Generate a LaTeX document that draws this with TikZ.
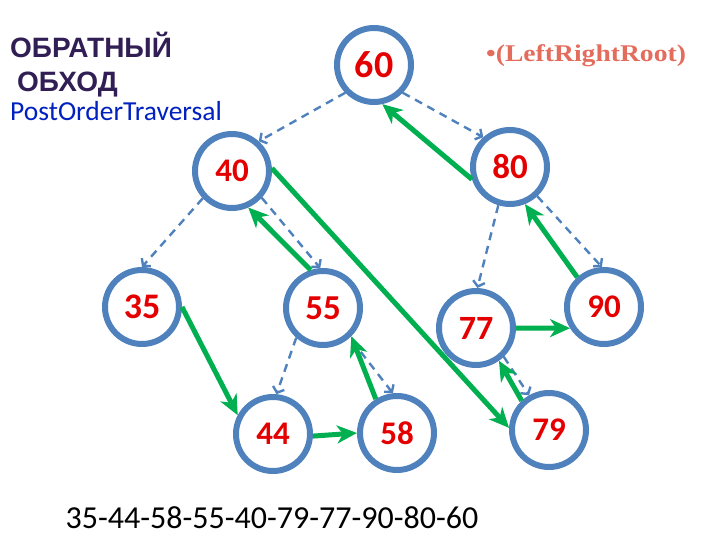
\documentclass[tikz,border=0pt]{standalone}
\usepackage{fontspec}
\setmainfont{Carlito}
\newfontfamily\arialf{Liberation Sans}
\newfontfamily\timesf{Liberation Serif}
\usetikzlibrary{arrows.meta}
\definecolor{nodeblue}{RGB}{79,129,189}
\definecolor{numred}{RGB}{228,0,0}
\definecolor{arrgreen}{RGB}{0,176,80}
\definecolor{titlepurple}{RGB}{48,30,84}
\definecolor{subblue}{RGB}{0,32,192}
\definecolor{salmon}{RGB}{228,108,92}
\begin{document}
\begin{tikzpicture}[x=1pt,y=-1pt,
  tn/.style={circle, draw=nodeblue, line width=6pt, minimum size=74pt, inner sep=0pt,
    font=\bfseries\fontsize{33}{33}\selectfont, text=numred},
  tree/.style={draw=nodeblue, line width=2.4pt, dash pattern=on 8pt off 6pt,
    -{Straight Barb[length=5pt,width=12pt]}},
  walk/.style={draw=arrgreen, line width=5pt, -{Stealth[length=20pt,width=18pt,inset=6pt]}}]
\path[use as bounding box] (0,0) rectangle (720,540);

% titles
\node[anchor=base west, inner sep=0pt, font=\arialf\bfseries\fontsize{28}{28}\selectfont, text=titlepurple] (t1) at (10,58) {ОБРАТНЫЙ};
\node[anchor=base west, inner sep=0pt, font=\arialf\bfseries\fontsize{28}{28}\selectfont, text=titlepurple] (t2) at (17,92) {ОБХОД};
\node[anchor=base west, inner sep=0pt, font=\fontsize{27.5}{27.5}\selectfont, text=subblue] (t3) at (10,121) {PostOrderTraversal};
\node[anchor=base west, inner sep=0pt, font=\timesf\bfseries\fontsize{24}{24}\selectfont, text=salmon] (t4) at (486,62) {\scalebox{1.15}[1]{•(LeftRightRoot)}};
\node[anchor=base, inner sep=0pt, font=\fontsize{32}{32}\selectfont] (seq) at (272,528) {35-44-58-55-40-79-77-90-80-60};

% nodes
\node[tn, font=\bfseries\fontsize{38}{38}\selectfont] (n60) at (374,65) {60};
\node[tn] (n40) at (232,171) {40};
\node[tn, font=\bfseries\fontsize{35}{35}\selectfont] (n80) at (510,167) {80};
\node[tn, font=\bfseries\fontsize{36}{36}\selectfont] (n35) at (142,307) {35};
\node[tn, font=\bfseries\fontsize{35}{35}\selectfont] (n55) at (323,308) {55};
\node[tn, font=\bfseries\fontsize{34}{34}\selectfont] (n77) at (476,328) {77};
\node[tn] (n90) at (604,307) {90};
\node[tn] (n44) at (273,434) {44};
\node[tn] (n58) at (397,433) {58};
\node[tn] (n79) at (549,430) {79};

% tree edges (dashed)
\draw[tree] (n60.224) -- (n40.48);
\draw[tree] (n60.-44) -- (n80.132);
\draw[tree] (n40.223) -- (n35.90);
\draw[tree] (n40.-42) -- (n55.94);
\draw[tree] (n80.253) -- (n77.88);
\draw[tree] (n80.-47) -- (n90.93);
\draw[tree] (n55.228) -- (n44.85);
\draw[tree, shorten <=4pt] (n55.-48) -- (n58.96);
\draw[tree] (n77.-46) -- (n79.120);

% traversal (green)
\draw[walk] (n35.0) -- (n44.152);
\draw[walk] (n44.-3) -- (n58.180);
\draw[walk] (n58.122) -- (n55.-45);
\draw[walk] (n55.108) -- (n40.-66);
\draw[walk] (n40.4) -- (n79.177);
\draw[walk] (n79.133) -- (n77.-55);
\draw[walk] (n77.0) -- (n90.212);
\draw[walk] (n90.132) -- (n80.-68);
\draw[walk] (n80.198) -- (n60.-78);
\end{tikzpicture}
\end{document}
